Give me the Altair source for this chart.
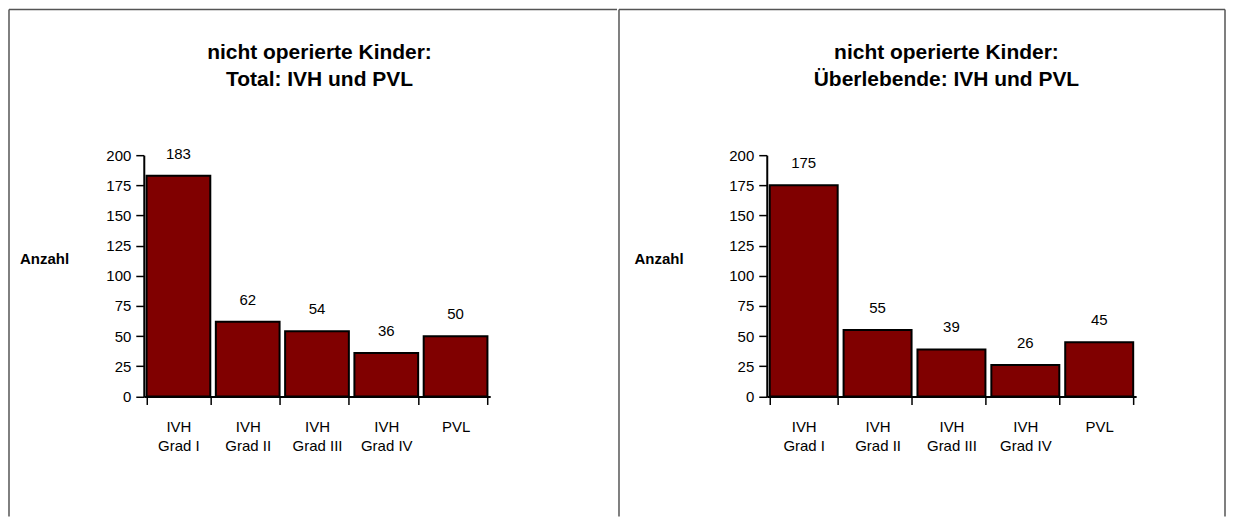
import altair as alt
import pandas as pd

# ---- data ----
categories = ["IVH Grad I", "IVH Grad II", "IVH Grad III", "IVH Grad IV", "PVL"]
total_values = [183, 62, 54, 36, 50]
survivor_values = [175, 55, 39, 26, 45]
y_ticks = [0, 25, 50, 75, 100, 125, 150, 175, 200]
title_total = ["nicht operierte Kinder:", "Total: IVH und PVL"]
title_survivors = ["nicht operierte Kinder:", "Überlebende: IVH und PVL"]
y_title = "Anzahl"

FONT = "Liberation Sans"
H = 508
Y0 = 387.7
Y200 = 146.0
FRAME = "#555555"


def panel(values, title, width, x0, x1, title_dx, ytitle_x):
    df = pd.DataFrame({"cat": categories, "n": values})
    x_enc = alt.X(
        "cat:N",
        sort=categories,
        scale=alt.Scale(domain=categories, range=[x0, x1],
                        paddingInner=0.08, paddingOuter=0.04),
        axis=alt.Axis(
            title=None, orient="bottom", offset=-(H - Y0), labelAngle=0,
            labelExpr="indexof(datum.label, 'IVH ') == 0 ? ['IVH', substring(datum.label, 4)] : datum.label",
            tickBand="extent", tickSize=8, tickWidth=1.5, tickColor="black",
            domainColor="black", domainWidth=2, labelPadding=15,
            labelFont=FONT, labelFontSize=15, labelColor="black",
            labelLineHeight=19, labelBaseline="top",
        ),
    )
    y_enc = alt.Y(
        "n:Q",
        scale=alt.Scale(domain=[0, 200], range=[Y0, Y200], nice=False, zero=True),
        axis=alt.Axis(
            values=y_ticks, title=y_title, titleAngle=0, titleAlign="left",
            titleBaseline="middle", titleX=ytitle_x, titleY=250,
            titleFont=FONT, titleFontSize=15, titleFontWeight="bold", titleColor="black",
            offset=-x0, grid=False, tickSize=8, tickWidth=1.5, tickColor="black",
            domainColor="black", domainWidth=2, labelPadding=5,
            labelFont=FONT, labelFontSize=15, labelColor="black",
        ),
    )
    bars = alt.Chart(df).mark_bar(color="#800000", stroke="black", strokeWidth=2).encode(
        x=x_enc, y=y_enc
    )
    labels = alt.Chart(df).mark_text(
        dy=-22, baseline="middle", font=FONT, fontSize=15, color="black"
    ).encode(x=x_enc, y=y_enc, text="n:Q")

    frame_df = pd.DataFrame({"k": [0]})
    top = alt.Chart(frame_df).mark_rule(color=FRAME, strokeWidth=1.5).encode(
        x=alt.value(0), x2=alt.value(width), y=alt.value(0)
    )
    left = alt.Chart(frame_df).mark_rule(color=FRAME, strokeWidth=1.5).encode(
        x=alt.value(0), y=alt.value(0), y2=alt.value(H)
    )
    layers = [top, left, bars, labels]
    return alt.layer(*layers).properties(
        width=width, height=H,
        title=alt.TitleParams(
            text=title, anchor="middle", frame="group", orient="top",
            offset=-102, dx=title_dx, baseline="bottom", lineHeight=27,
            font=FONT, fontSize=21, fontWeight="bold", color="black",
        ),
    )


W1, W2 = 609, 607
p1 = panel(total_values, title_total, W1, 135, 482, 6.5, -124.5)
p2 = panel(survivor_values, title_survivors, W2, 148, 518, 24.5, -133)
right_edge = alt.Chart(pd.DataFrame({"k": [0]})).mark_rule(color=FRAME, strokeWidth=1.5).encode(
    x=alt.value(W2), y=alt.value(0), y2=alt.value(H)
)
p2 = alt.layer(p2, right_edge)

chart = alt.hconcat(p1, p2, spacing=0).properties(
    padding={"left": 0, "top": 0, "right": 0, "bottom": 0},
    background="white",
).configure_view(strokeWidth=0)

chart.save("out.html", embed_options={"renderer": "svg", "actions": False})
